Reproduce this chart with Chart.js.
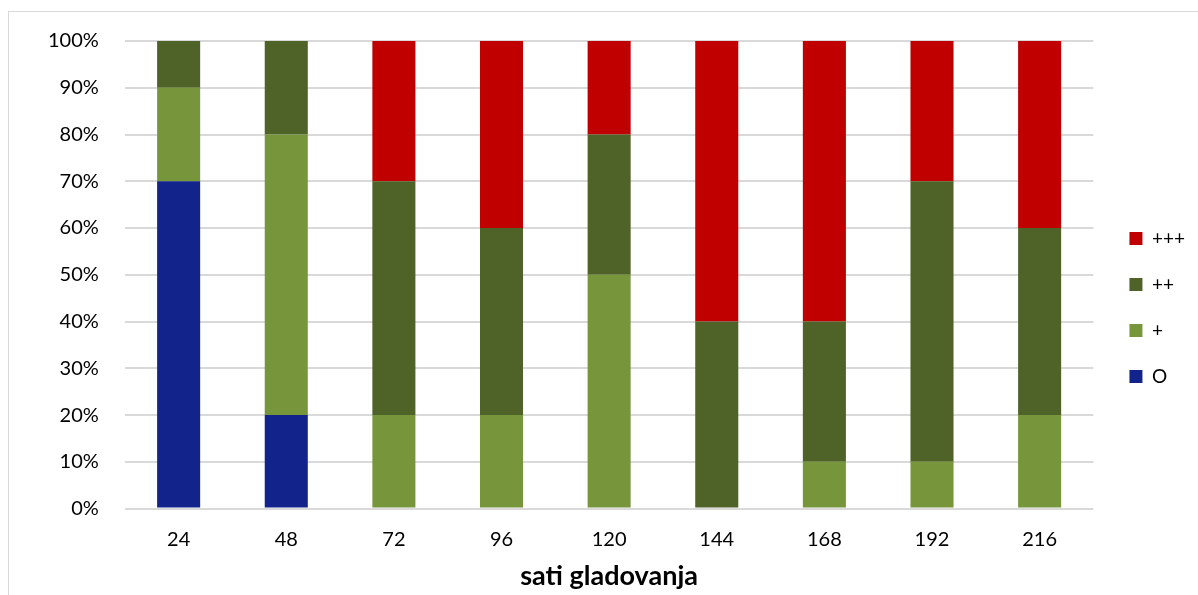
<!DOCTYPE html>
<html>
<head>
<meta charset="utf-8">
<script src="https://cdn.jsdelivr.net/npm/chart.js@4"></script>
<style>
    html, body { margin: 0; padding: 0; background: #fff; }
    #frame {
        position: absolute; left: 8px; top: 11px; width: 1300px; height: 700px;
        border: 1px solid #d9d9d9; box-sizing: border-box;
    }
    #wrap { position: absolute; left: 0; top: 0; width: 1198px; height: 595px; }
</style>
</head>
<body>
<div id="frame"></div>
<div id="wrap"><canvas id="chart" width="1198" height="595"></canvas></div>
<script>
// sati gladovanja (hours of fasting)
const hours = ['24', '48', '72', '96', '120', '144', '168', '192', '216'];

// percentages per category
const valO     = [70, 20, 0, 0, 0, 0, 0, 0, 0];
const valPlus1 = [20, 60, 20, 20, 50, 0, 10, 10, 20];
const valPlus2 = [10, 20, 50, 40, 30, 40, 30, 60, 40];
const valPlus3 = [0, 0, 30, 40, 20, 60, 60, 30, 40];

const yTicks = [0, 10, 20, 30, 40, 50, 60, 70, 80, 90, 100];

const fontFamily = 'Lato, "Open Sans", sans-serif';

function makeSet(label, data, color) {
    return {
        label: label,
        data: data,
        backgroundColor: color,
        borderWidth: 0,
        categoryPercentage: 1,
        barPercentage: 0.4
    };
}

// nudge the legend up a bit, like in the original
const legendShift = {
    id: 'legendShift',
    afterLayout(chart) {
        chart.legend.top -= 9;
        chart.legend.bottom -= 9;
    }
};

new Chart(document.getElementById('chart').getContext('2d'), {
    type: 'bar',
    data: {
        labels: hours,
        datasets: [
            makeSet('O', valO, '#12238c'),
            makeSet('+', valPlus1, '#77963c'),
            makeSet('++', valPlus2, '#4f6228'),
            makeSet('+++', valPlus3, '#c00000')
        ]
    },
    plugins: [legendShift],
    options: {
        responsive: false,
        animation: false,
        layout: { padding: { left: 22, top: 41, right: 3, bottom: 3 } },
        plugins: {
            tooltip: { enabled: false },
            legend: {
                position: 'right',
                reverse: true,
                labels: {
                    boxWidth: 13,
                    boxHeight: 13,
                    padding: 27,
                    color: '#000',
                    font: { family: fontFamily, size: 19 }
                }
            }
        },
        scales: {
            x: {
                stacked: true,
                grid: { display: false },
                border: { display: false },
                ticks: { color: '#000', padding: 11, font: { family: fontFamily, size: 20 } },
                title: {
                    display: true,
                    text: 'sati gladovanja',
                    color: '#000',
                    padding: { top: -3, bottom: 0 },
                    font: { family: fontFamily, size: 27, weight: 'bold' }
                }
            },
            y: {
                stacked: true,
                min: 0,
                max: 100,
                afterBuildTicks: axis => { axis.ticks = yTicks.map(v => ({ value: v })); },
                grid: { color: '#d9d9d9', lineWidth: 2, drawTicks: false },
                border: { display: false },
                ticks: {
                    color: '#000',
                    padding: 26,
                    font: { family: fontFamily, size: 20 },
                    callback: v => v + '%'
                }
            },
            // empty spacer between plot and legend
            gap: {
                position: 'right',
                display: true,
                grid: { display: false },
                border: { display: false },
                ticks: { display: false },
                afterFit: axis => { axis.width = 9; }
            }
        }
    }
});
</script>
</body>
</html>
